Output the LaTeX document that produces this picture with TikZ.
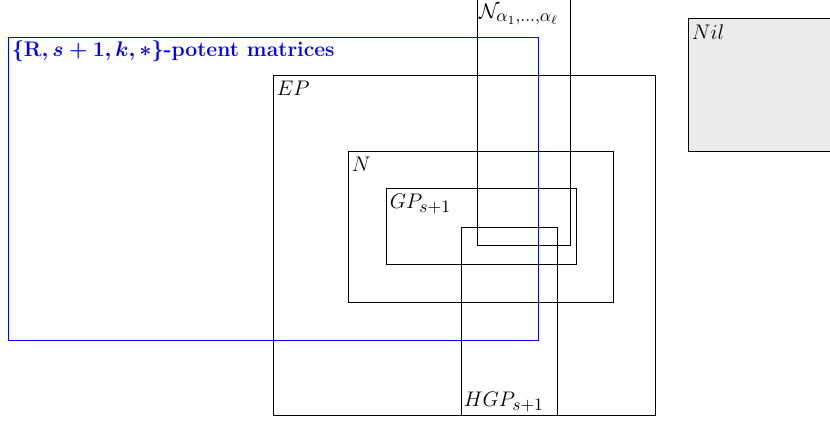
\documentclass[tikz,border=0pt]{standalone}
\usepackage{amsmath}
\usepackage{amsfonts}
\usepackage{xcolor}
\usetikzlibrary{positioning}
\DeclareMathSizes{12}{12}{10}{7}

\begin{document}
\begin{tikzpicture}[
    x=0.02cm, y=-0.02cm,
    set/.style={draw=black, line width=0.5pt},
    lbl/.style={anchor=north west, inner xsep=2pt, inner ysep=3.5pt, font=\large},
]

% ===== Frame =====
\useasboundingbox (0,0) rectangle (830,424);

% ===== Sets =====
\fill[black!8] (688,18) rectangle (840,151);
\draw[set] (688,18) rectangle (840,151);
\draw[set, draw=blue] (8,37) rectangle (538,340);
\draw[set] (273,75) rectangle (655,415);
\draw[set] (348,151) rectangle (613,302);
\draw[set] (386,188) rectangle (576,264);
\draw[set] (477,-10) rectangle (570,245);
\draw[set] (461,227) rectangle (557,415);

% ===== Labels =====
\node[lbl, text=blue, inner ysep=2pt, font=\large\bfseries\boldmath] (potent) at (8,37) {$\{\mathbf{R},s+1,k,*\}$-potent matrices};
\node[lbl] (ep) at (273,75) {$EP$};
\node[lbl] (nn) at (348,151) {$N$};
\node[lbl] (gp) at (386,188) {$GP_{s+1}$};
\node[lbl, inner sep=1pt] (nalpha) at (477,2) {$\mathcal{N}_{\alpha_1,\ldots,\alpha_\ell}$};
\node[lbl, anchor=south west, inner sep=1.5pt] (hgp) at (461,415) {$HGP_{s+1}$};
\node[lbl] (nil) at (688,18) {$Nil$};

\end{tikzpicture}
\end{document}
